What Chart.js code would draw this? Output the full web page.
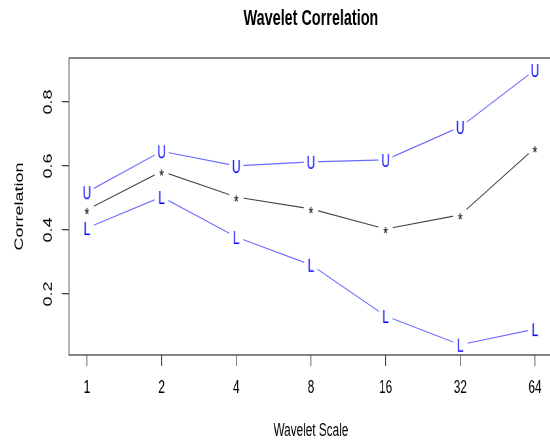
<!DOCTYPE html>
<html>
<head>
<meta charset="utf-8">
<script src="https://cdn.jsdelivr.net/npm/chart.js@4.4.1/dist/chart.umd.min.js"></script>
<style>
  html, body { margin: 0; padding: 0; overflow: hidden; background: #fff; }
  /* the reference is an R plot squeezed sideways, so draw wide and squeeze */
  #wrap { width: 850px; height: 442px; transform: scale(0.655, 1); transform-origin: 0 0; }
</style>
</head>
<body>
<div id="wrap"><canvas id="waveChart" width="850" height="442"></canvas></div>
<script>
// WAVELET CORRELATION
const scaleLabels = ["1", "2", "4", "8", "16", "32", "64"];
const upper    = [0.518, 0.646, 0.600, 0.613, 0.619, 0.722, 0.900];
const estimate = [0.463, 0.583, 0.503, 0.466, 0.403, 0.447, 0.656];
const lower    = [0.406, 0.503, 0.378, 0.291, 0.131, 0.041, 0.090];
const yTicks   = [0.2, 0.4, 0.6, 0.8];

const FONT = "Liberation Sans, Arial, sans-serif";
Chart.defaults.font.family = FONT;

// letter markers with a white gap around them, like R type="b"
function marker(ch, color, lift) {
  const c = document.createElement("canvas");
  c.width = 30; c.height = 30;
  const g = c.getContext("2d");
  g.fillStyle = "#fff";
  g.beginPath(); g.arc(15, 15, 11, 0, Math.PI * 2); g.fill();
  g.fillStyle = color;
  g.font = "18px " + FONT;
  g.textAlign = "center";
  g.textBaseline = "alphabetic";
  g.fillText(ch, 15, 15 + lift);
  return c;
}

const toPoints = arr => arr.map((v, i) => ({ x: i, y: v }));

const frame = {
  id: "frame",
  afterDraw(chart) {
    const { ctx, chartArea: a, scales } = chart;
    ctx.save();
    ctx.strokeStyle = "#444";
    ctx.lineWidth = 1.3;
    ctx.strokeRect(a.left, a.top, a.right - a.left, a.bottom - a.top);

    ctx.fillStyle = "#000";
    // y tick labels, rotated like R
    ctx.font = "18px " + FONT;
    ctx.textAlign = "center";
    ctx.textBaseline = "alphabetic";
    scales.y.ticks.forEach(t => {
      ctx.save();
      ctx.translate(a.left - 26, scales.y.getPixelForValue(t.value));
      ctx.rotate(-Math.PI / 2);
      ctx.fillText(String(t.value), 0, 0);
      ctx.restore();
    });

    // axis titles
    ctx.fillText("Wavelet Scale", (a.left + a.right) / 2, 436);
    ctx.save();
    ctx.translate(a.left - 70, (a.top + a.bottom) / 2);
    ctx.rotate(-Math.PI / 2);
    ctx.fillText("Correlation", 0, 0);
    ctx.restore();

    // main title
    ctx.font = "bold 22px " + FONT;
    ctx.fillText("Wavelet Correlation", (a.left + a.right) / 2, 25);
    ctx.restore();
  }
};

new Chart(document.getElementById("waveChart"), {
  type: "line",
  data: {
    datasets: [
      {
        label: "U",
        data: toPoints(upper),
        borderColor: "#6a6aff",
        borderWidth: 1.2,
        pointStyle: marker("U", "#0000ff", 6.5),
        pointRadius: 10
      },
      {
        label: "*",
        data: toPoints(estimate),
        borderColor: "#444",
        borderWidth: 1.2,
        pointStyle: marker("*", "#000", 10.5),
        pointRadius: 10
      },
      {
        label: "L",
        data: toPoints(lower),
        borderColor: "#6a6aff",
        borderWidth: 1.2,
        pointStyle: marker("L", "#0000ff", 6.5),
        pointRadius: 10
      }
    ]
  },
  options: {
    responsive: false,
    animation: false,
    devicePixelRatio: 1,
    layout: { autoPadding: false, padding: { top: 58, right: 6, left: 0, bottom: 0 } },
    plugins: { legend: { display: false }, tooltip: { enabled: false } },
    scales: {
      x: {
        type: "linear",
        min: -0.24,
        max: 6.24,
        afterBuildTicks: s => { s.ticks = scaleLabels.map((_, i) => ({ value: i })); },
        afterFit: s => { s.height = 87; s.paddingLeft = 0; s.paddingRight = 0; },
        ticks: {
          callback: v => scaleLabels[v],
          font: { size: 18 },
          color: "#000",
          padding: 11,
          maxRotation: 0,
          autoSkip: false
        },
        grid: { drawOnChartArea: false, tickLength: 11, color: "#444", lineWidth: 1.3 },
        border: { display: false }
      },
      y: {
        min: 0.009,
        max: 0.9375,
        afterBuildTicks: s => { s.ticks = yTicks.map(v => ({ value: v })); },
        afterFit: s => { s.width = 105.3; },
        ticks: { display: false },
        grid: { drawOnChartArea: false, tickLength: 11, color: "#444", lineWidth: 1.3 },
        border: { display: false }
      }
    }
  },
  plugins: [frame]
});
</script>
</body>
</html>
